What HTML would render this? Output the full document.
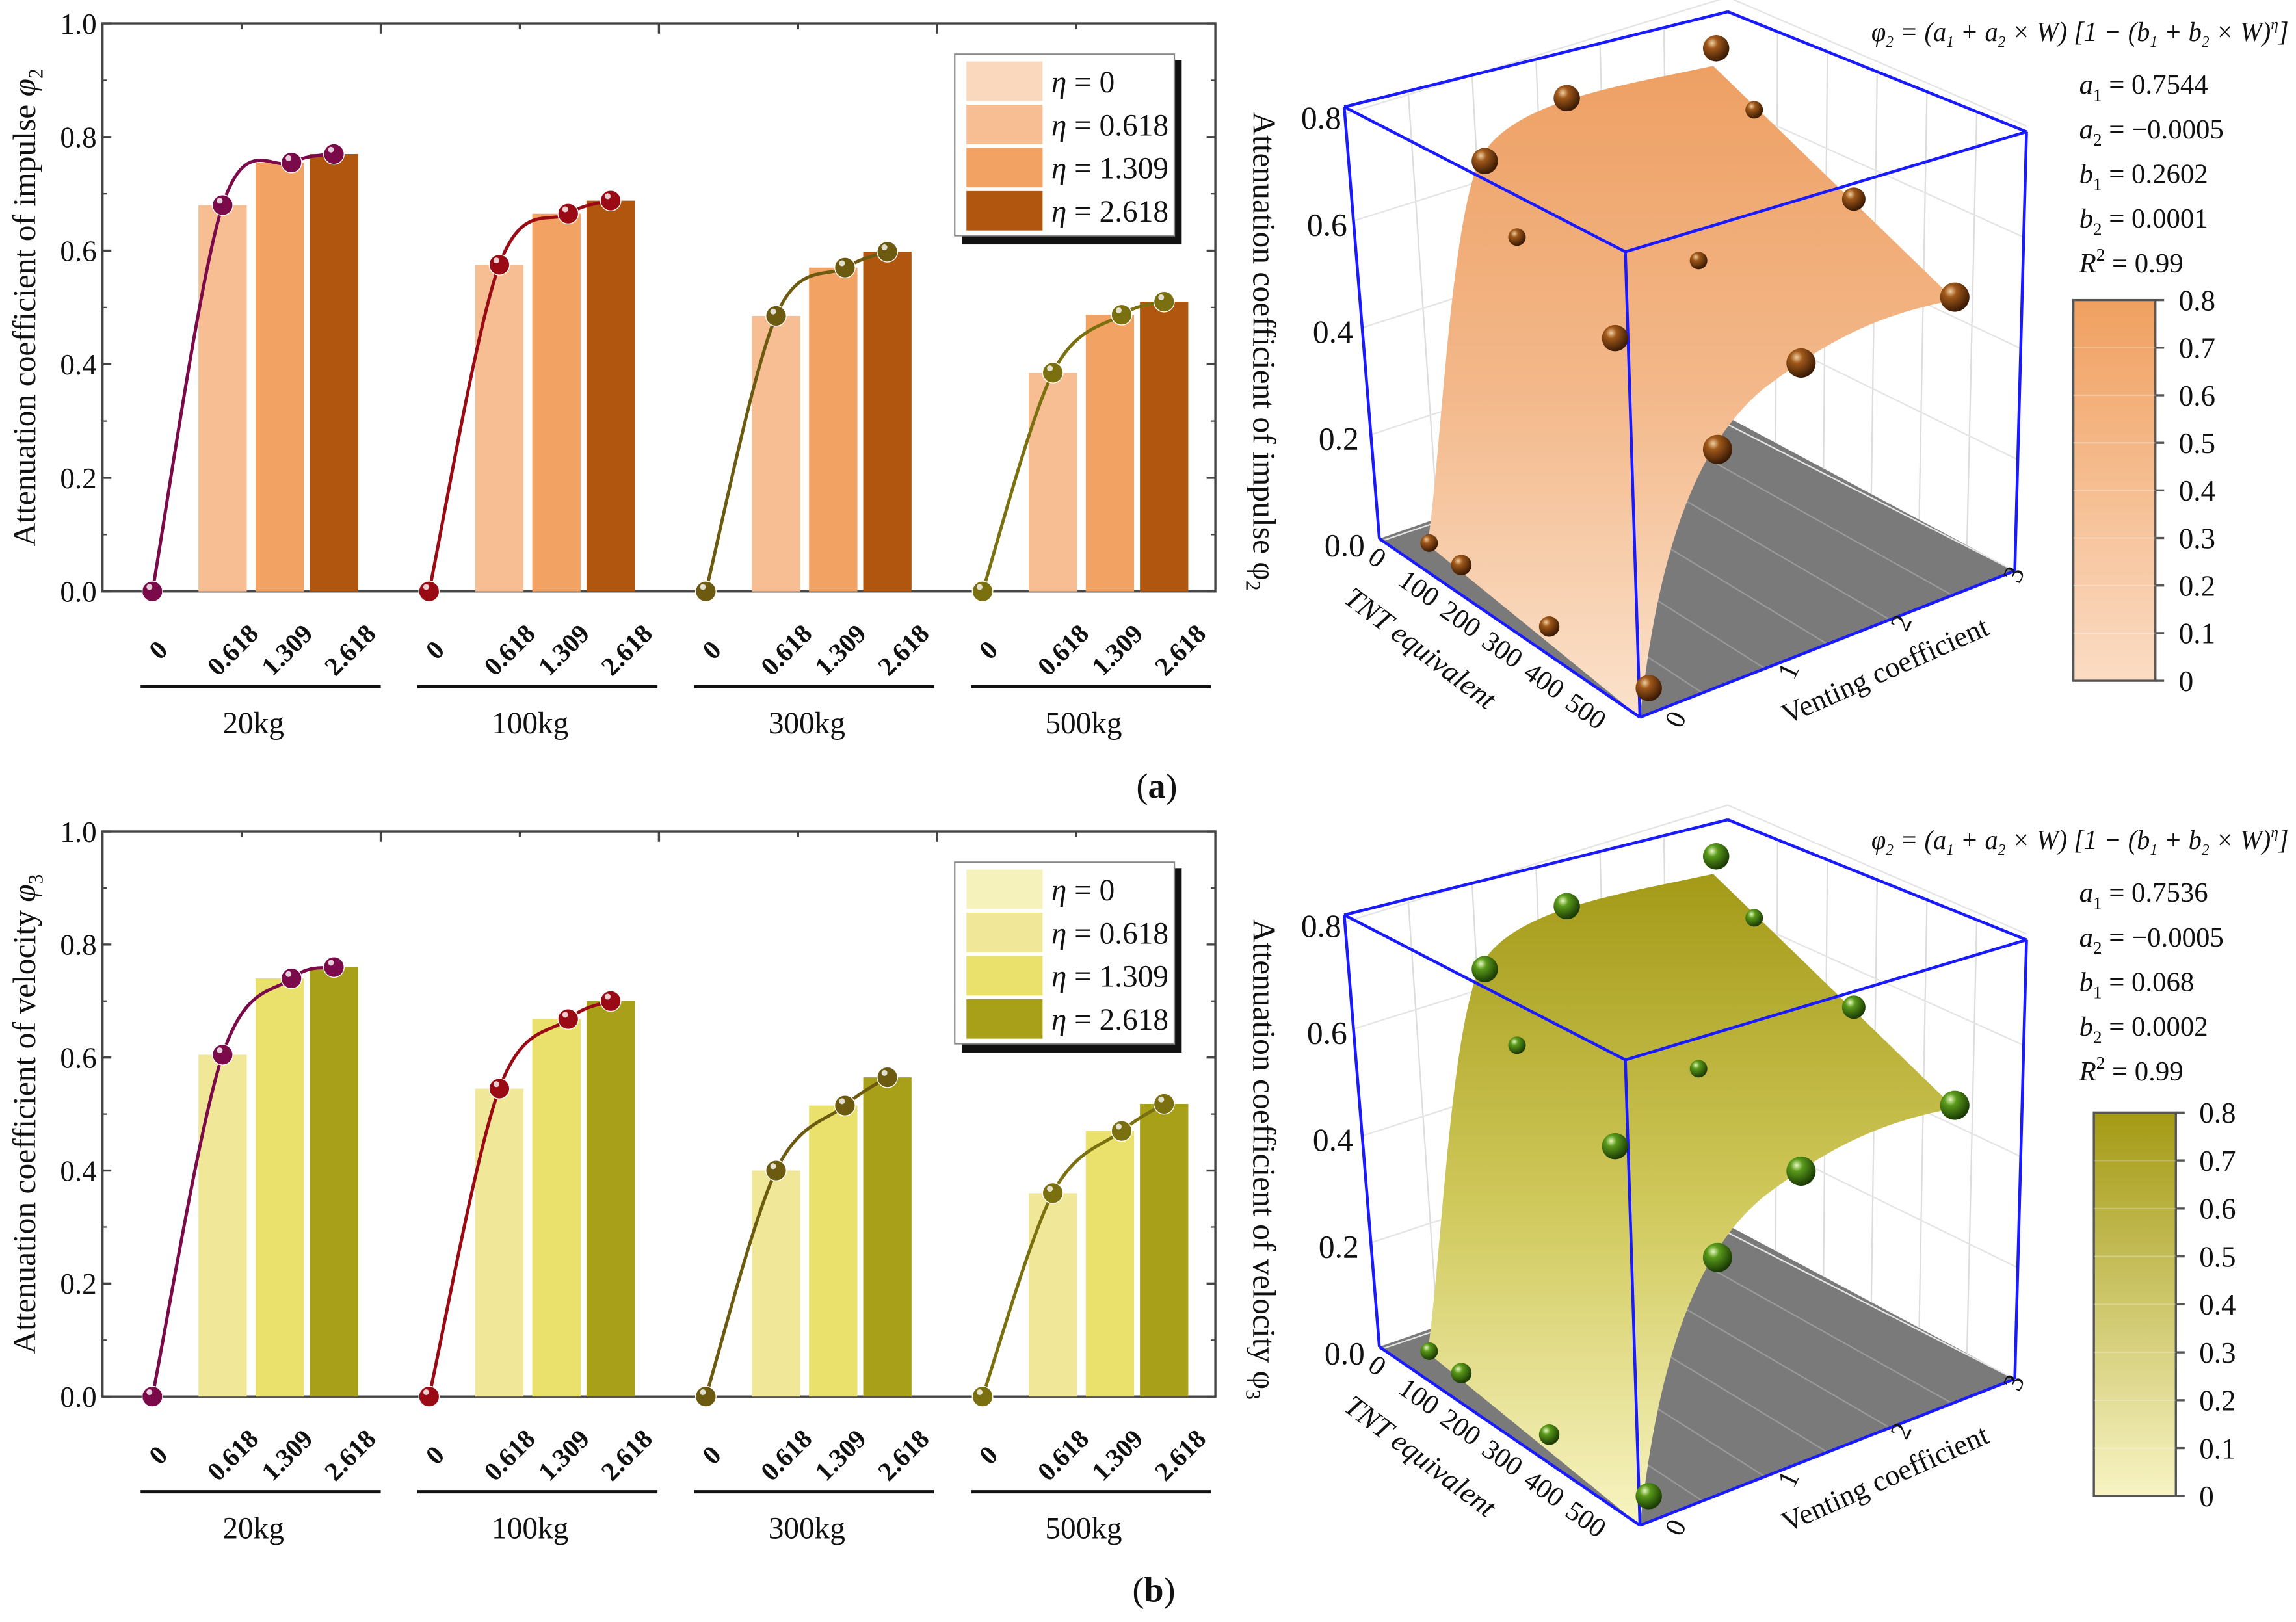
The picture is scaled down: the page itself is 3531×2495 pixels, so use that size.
<!DOCTYPE html>
<html><head><meta charset="utf-8"><style>
html,body{margin:0;padding:0;background:#fff}
svg{display:block}
text{font-family:"Liberation Serif",serif;fill:#111}
</style></head><body>
<svg id="root" width="3531" height="2495" viewBox="0 0 1568 1108" xmlns="http://www.w3.org/2000/svg">
<defs>
<radialGradient id="sphB" cx="35%" cy="30%" r="70%"><stop offset="0" stop-color="#f0d0a0"/><stop offset="0.3" stop-color="#a0581a"/><stop offset="1" stop-color="#3a1a04"/></radialGradient>
<radialGradient id="sphG" cx="35%" cy="30%" r="70%"><stop offset="0" stop-color="#e8f8c0"/><stop offset="0.3" stop-color="#5a9a1a"/><stop offset="1" stop-color="#1a3a04"/></radialGradient>
<linearGradient id="surfA" x1="0" y1="0" x2="0" y2="1"><stop offset="0" stop-color="#eea064"/><stop offset="0.5" stop-color="#f3b88a"/><stop offset="1" stop-color="#fbe2cc"/></linearGradient>
<linearGradient id="surfB" x1="0" y1="0" x2="0" y2="1"><stop offset="0" stop-color="#a49a18"/><stop offset="0.5" stop-color="#cfc85a"/><stop offset="1" stop-color="#f8f4c2"/></linearGradient>
<linearGradient id="cbA" x1="0" y1="0" x2="0" y2="1"><stop offset="0" stop-color="#f0a060"/><stop offset="1" stop-color="#fbdcc4"/></linearGradient>
<linearGradient id="cbB" x1="0" y1="0" x2="0" y2="1"><stop offset="0" stop-color="#a49a14"/><stop offset="1" stop-color="#f8f4c4"/></linearGradient>
</defs>
<g id="panelA"></g>
<g id="panelB"></g>
<text x="790" y="545" font-size="24" text-anchor="middle">(<tspan font-weight="bold">a</tspan>)</text>
<text x="788" y="1094" font-size="24" text-anchor="middle">(<tspan font-weight="bold">b</tspan>)</text>
</svg>
<script>
const groups = ["20kg","100kg","300kg","500kg"];
const etaLabels = ["0","0.618","1.309","2.618"];
const yTicks = [0,0.2,0.4,0.6,0.8,1.0];
const impulseEta0618 = [0.68,0.575,0.485,0.385];
const impulseEta1309 = [0.755,0.665,0.57,0.487];
const impulseEta2618 = [0.77,0.688,0.598,0.51];
const velocityEta0618 = [0.605,0.545,0.40,0.36];
const velocityEta1309 = [0.74,0.668,0.515,0.47];
const velocityEta2618 = [0.76,0.70,0.565,0.518];
const paramsA = ["0.7544","\u22120.0005","0.2602","0.0001","0.99"];
const paramsB = ["0.7536","\u22120.0005","0.068","0.0002","0.99"];
const cbTicks = [0,0.1,0.2,0.3,0.4,0.5,0.6,0.7,0.8];
const zTicks = [0,0.2,0.4,0.6,0.8];
const tntTicks = [0,100,200,300,400,500];
const ventTicks = [0,1,2,3];

const NS="http://www.w3.org/2000/svg";
function el(tag,attrs,parent,txt){const e=document.createElementNS(NS,tag);for(const k in attrs)e.setAttribute(k,attrs[k]);if(txt!==undefined)e.textContent=txt;parent.appendChild(e);return e;}
function catmull(p){let d="M"+p[0][0]+","+p[0][1];for(let i=0;i<p.length-1;i++){const p0=p[i-1]||p[i],p1=p[i],p2=p[i+1],p3=p[i+2]||p2;d+=" C"+(p1[0]+(p2[0]-p0[0])/6)+","+(p1[1]+(p2[1]-p0[1])/6)+" "+(p2[0]-(p3[0]-p1[0])/6)+","+(p2[1]-(p3[1]-p1[1])/6)+" "+p2[0]+","+p2[1];}return d;}

function barChart(g,top,bot,series,colors,lineColors,sph,title,sub){
  const L=70,R=830;
  const y=v=>bot-v*(bot-top);
  const gx=i=>104+i*189;
  el("rect",{x:L,y:top,width:R-L,height:bot-top,fill:"none",stroke:"#444","stroke-width":1.5},g);
  yTicks.forEach(t=>{const yy=y(t);
    el("line",{x1:L,y1:yy,x2:L+6,y2:yy,stroke:"#444","stroke-width":1.5},g);
    el("line",{x1:R,y1:yy,x2:R-6,y2:yy,stroke:"#444","stroke-width":1.5},g);
    const tx=el("text",{x:L-4,y:yy+7,"font-size":20,"text-anchor":"end"},g,t.toFixed(1));
    
    
  });
  for(let k=0;k<5;k++){const yy=y(0.1+k*0.2);el("line",{x1:L,y1:yy,x2:L+3,y2:yy,stroke:"#444"},g);el("line",{x1:R,y1:yy,x2:R-3,y2:yy,stroke:"#444"},g);}
  for(let k=1;k<8;k++){const xx=L+k*(R-L)/8;el("line",{x1:xx,y1:top,x2:xx,y2:top+(k%2?4:7),stroke:"#444","stroke-width":1.5},g);}
  const offs=[48,87,124];
  groups.forEach((gr,i)=>{
    const x0=gx(i);
    series.forEach((s,j)=>{
      const b=el("rect",{x:x0+offs[j]-16.5,y:y(s[i]),width:33,height:bot-y(s[i]),fill:colors[j+1]},g);
      
      
    });
    const pts=[[x0,y(0)],[x0+offs[0],y(series[0][i])],[x0+offs[1]+8,y(series[1][i])],[x0+offs[2],y(series[2][i])]];
    const ln=el("path",{d:catmull(pts),fill:"none",stroke:lineColors[i],"stroke-width":2.2},g);
    
    
    pts.forEach(p=>{const c=el("circle",{cx:p[0],cy:p[1],r:7,fill:lineColors[i],stroke:"#fff","stroke-width":0.6},g);
      
      
      el("circle",{cx:p[0]-2,cy:p[1]-3,r:2,fill:"#fff",opacity:0.8},g);});
    etaLabels.forEach((lb,j)=>{
      const xx=[x0+4,x0+55,x0+92,x0+135][j];
      const t=el("text",{x:xx,y:bot+46,"font-size":18,"font-weight":"bold","text-anchor":"middle",transform:"rotate(-45 "+xx+" "+(bot+40)+")"},g,lb);
      
      
    });
    el("line",{x1:x0-8,y1:bot+65,x2:x0+156,y2:bot+65,stroke:"#111","stroke-width":2.2},g);
    const gl=el("text",{x:x0+69,y:bot+97,"font-size":21,"text-anchor":"middle"},g,gr);
    
    
  });
  const yt=el("text",{x:0,y:0,"font-size":22,"text-anchor":"middle",transform:"translate(24 "+((top+bot)/2)+") rotate(-90)"},g);
  
  
  yt.innerHTML=title+" <tspan font-style='italic'>φ</tspan><tspan font-size='14' dy='5'>"+sub+"</tspan>";
  const lt=top+21;
  el("rect",{x:657,y:lt+4,width:150,height:126,fill:"#111"},g);
  const lg=el("rect",{x:652,y:lt,width:150,height:124,fill:"#fff",stroke:"#888"},g);
  
  
  etaLabels.forEach((lb,j)=>{
    const yy=lt+5+j*29.5;
    el("rect",{x:660,y:yy,width:52,height:27,fill:colors[j]},g);
    const t=el("text",{x:718,y:yy+21,"font-size":21},g);
    
    
    t.innerHTML="<tspan font-style='italic'>η</tspan> = "+lb;
  });
}

function chart3d(g,dy,surf,sph,cb,params,title,sub,cbColor){
  const T=(x,y)=>x+","+(y+dy);
  el("polygon",{points:[T(942,368),T(1180,285),T(1376,390),T(1120,490)].join(" "),fill:"#7a7a7a"},g);
  for(let k=1;k<6;k++){const f=k/6;
    el("line",{x1:942+(1180-942)*f,y1:368+dy+(285-368)*f,x2:918+(1180-918)*f,y2:73+dy+(8-73)*f,stroke:"#ddd"},g);
    el("line",{x1:1180+(1376-1180)*f,y1:285+dy+(390-285)*f,x2:1180+(1384-1180)*f,y2:8+dy+(90-8)*f,stroke:"#ddd"},g);
    el("line",{x1:1120+(1376-1120)*f,y1:490+dy+(390-490)*f,x2:942+(1180-942)*f,y2:368+dy+(285-368)*f,stroke:"#999"},g);
  }
  zTicks.forEach((t,i)=>{const yy=370-i*73;
    el("line",{x1:942-i*6,y1:yy+dy,x2:1180,y2:yy-80+dy,stroke:"#e4e4e4"},g);
    el("line",{x1:1180,y1:yy-80+dy,x2:1376+i*2,y2:yy+20-i*3+dy,stroke:"#e4e4e4"},g);
    const tx=el("text",{x:932-i*4,y:yy+10+dy,"font-size":22,"text-anchor":"end"},g,t.toFixed(1));
    
    
  });
  const s=el("path",{d:"M"+T(975,372)+" C"+T(985,300)+" "+T(990,160)+" "+T(1010,110)+" C"+T(1030,70)+" "+T(1100,60)+" "+T(1170,45)+" L"+T(1335,205)+" C"+T(1280,215)+" "+T(1245,235)+" "+T(1205,265)+" C"+T(1150,310)+" "+T(1130,400)+" "+T(1120,490)+" Z",fill:surf},g);
  
  
  const bl="#1a1aff";
  [[918,73,1180,8],[1180,8,1384,90],[1384,90,1110,172],[1110,172,918,73],[918,73,942,368],[1110,172,1120,490],[1384,90,1376,390],[942,368,1120,490],[1120,490,1376,390]].forEach(l=>el("line",{x1:l[0],y1:l[1]+dy,x2:l[2],y2:l[3]+dy,stroke:bl,"stroke-width":2},g));
  [[1172,33,9],[1070,67,9],[1014,110,9],[1198,75,6],[1266,136,8],[1036,162,6],[1160,178,6],[1335,203,10],[1103,231,9],[1230,248,10],[1173,307,10],[976,371,6],[998,386,7],[1058,428,7],[1126,470,9]].forEach(p=>{
    const c=el("circle",{cx:p[0],cy:p[1]+dy,r:p[2],fill:sph},g);
    
    
  });
  tntTicks.forEach((t,i)=>{const x=937+i*28.5,y=386+i*21;
    const tx=el("text",{x:x,y:y+dy,"font-size":19,"text-anchor":"middle",transform:"rotate(35 "+x+" "+(y+dy)+")"},g,String(t));
    
    
  });
  ventTicks.forEach((t,i)=>{const x=1150+i*77,y=494-i*33;
    const tx=el("text",{x:x,y:y+dy,"font-size":19,"text-anchor":"middle",transform:"rotate(-65 "+x+" "+(y+dy)+")"},g,String(t));
    
    
  });
  const a1=el("text",{x:0,y:0,"font-size":20,"text-anchor":"middle","font-style":"italic",transform:"translate(966 "+(448+dy)+") rotate(37)"},g,"TNT equivalent");
  
  
  const a2=el("text",{x:0,y:0,"font-size":20,"text-anchor":"middle",transform:"translate(1290 "+(464+dy)+") rotate(-24)"},g,"Venting coefficient");
  
  
  const zt=el("text",{x:0,y:0,"font-size":22,"text-anchor":"middle",transform:"translate(856 "+(240+dy)+") rotate(90)"},g);
  
  
  zt.innerHTML=title+" φ<tspan font-size='14' dy='5'>"+sub+"</tspan>";
  const eq=el("text",{x:1278,y:28+dy,"font-size":19,"font-style":"italic",textLength:285,lengthAdjust:"spacingAndGlyphs"},g);
  
  
  eq.innerHTML="φ<tspan font-size='11' dy='4'>2</tspan><tspan dy='-4'> = (a</tspan><tspan font-size='11' dy='4'>1</tspan><tspan dy='-4'> + a</tspan><tspan font-size='11' dy='4'>2</tspan><tspan dy='-4'> × W) [1 − (b</tspan><tspan font-size='11' dy='4'>1</tspan><tspan dy='-4'> + b</tspan><tspan font-size='11' dy='4'>2</tspan><tspan dy='-4'> × W)</tspan><tspan font-size='11' dy='-8'>η</tspan><tspan dy='8'>]</tspan>";
  const names=["a","a","b","b","R"];const subs=["1","2","1","2",""];
  params.forEach((p,i)=>{
    const t=el("text",{x:1420,y:64+i*30.5+dy,"font-size":19},g);
    
    
    t.innerHTML="<tspan font-style='italic'>"+names[i]+"</tspan>"+(i<4?"<tspan font-size='12' dy='5'>"+subs[i]+"</tspan><tspan dy='-5'> = "+p+"</tspan>":"<tspan font-size='12' dy='-8'>2</tspan><tspan dy='8'> = "+p+"</tspan>");
  });
  const cbx=cb[0],cby=cb[1]+dy,cbh=cb[2];
  const r=el("rect",{x:cbx,y:cby,width:56,height:cbh,fill:cbColor,stroke:"#555","stroke-width":1.5},g);
  
  
  cbTicks.forEach((t,i)=>{const yy=cby+cbh-i*cbh/8;
    el("line",{x1:cbx+56,y1:yy,x2:cbx+62,y2:yy,stroke:"#555","stroke-width":1.5},g);
    if(i>0&&i<8)el("line",{x1:cbx,y1:yy,x2:cbx+56,y2:yy,stroke:"#fff","stroke-opacity":0.25},g);
    const tx=el("text",{x:cbx+72,y:yy+7,"font-size":20},g,String(t));
    
    
  });
}

const gA=document.getElementById("panelA"),gB=document.getElementById("panelB");
barChart(gA,16,404,[impulseEta0618,impulseEta1309,impulseEta2618],["#f9d8bd","#f6be92","#f2a262","#b0560f"],["#7a0a4a","#9a0a14","#6b5a10","#7a7010"],"url(#sphB)","Attenuation coefficient of impulse","2");
barChart(gB,568,954,[velocityEta0618,velocityEta1309,velocityEta2618],["#f6f2bc","#f0e898","#e9e16c","#a8a018"],["#7a0a4a","#9a0a14","#6b5a10","#7a7010"],"url(#sphG)","Attenuation coefficient of velocity","3");
chart3d(gA,0,"url(#surfA)","url(#sphB)",[1416,205,260],paramsA,"Attenuation coefficient of impulse","2","url(#cbA)");
chart3d(gB,552,"url(#surfB)","url(#sphG)",[1430,208,262],paramsB,"Attenuation coefficient of velocity","3","url(#cbB)");
</script>
</body></html>
